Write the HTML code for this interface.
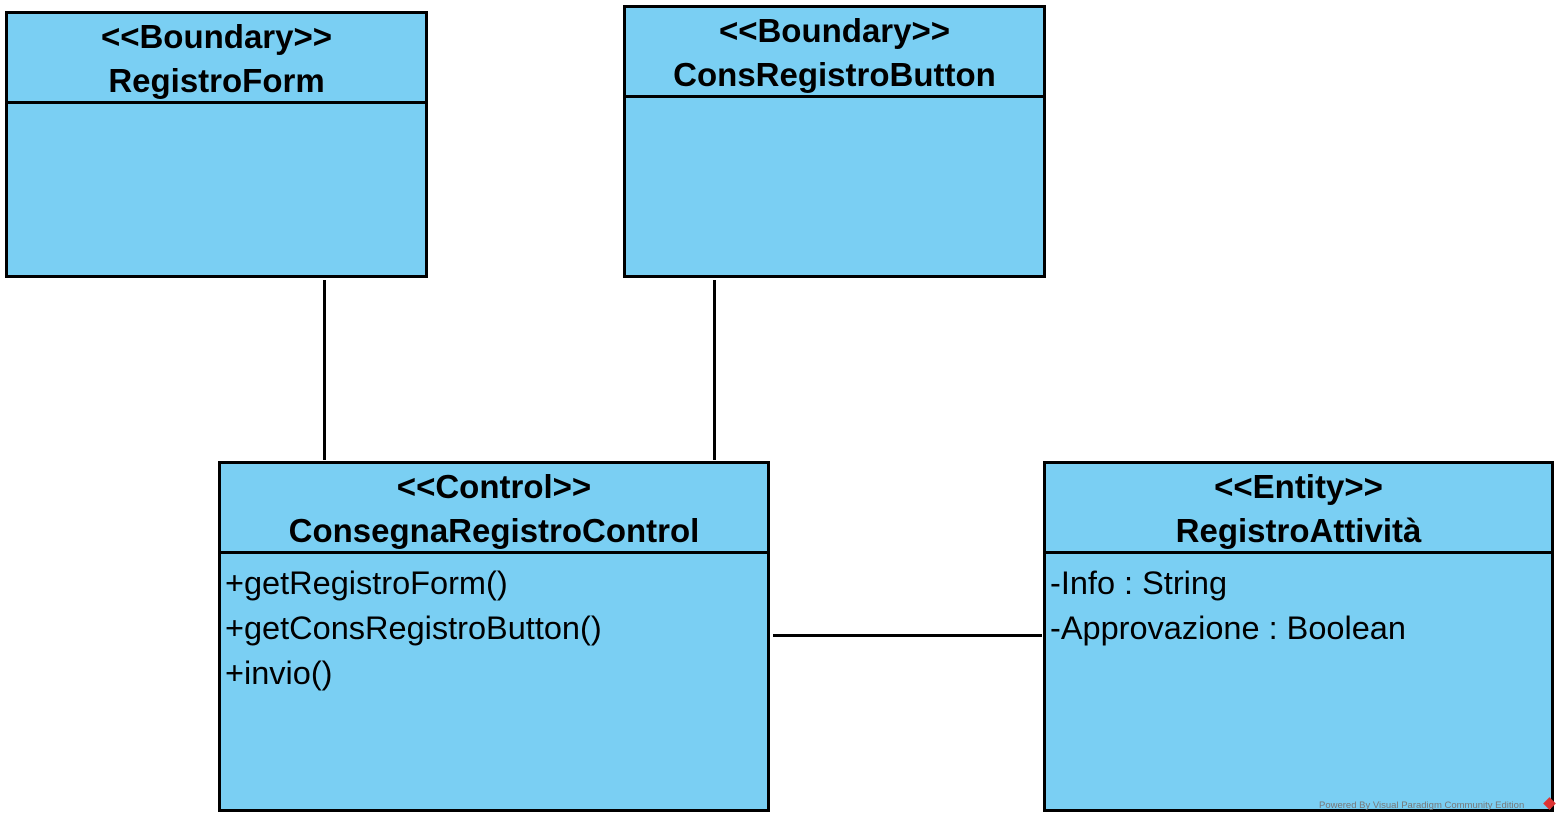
<!DOCTYPE html>
<html><head><style>
body{margin:0;width:1563px;height:822px;background:#fff;position:relative;overflow:hidden;font-family:"Liberation Sans",Arial,sans-serif}
.b{position:absolute;background:#7acff3;border:3px solid #000;box-sizing:border-box}
.h{position:absolute;left:0;right:0;top:0;height:87px;border-bottom:3px solid #000;text-align:center;font-weight:bold;font-size:33px;white-space:nowrap}
.s{line-height:46px;height:46px}
.n{line-height:42px;height:42px}
.a{position:absolute;left:4px;top:97px;font-size:32.5px;line-height:45px;white-space:nowrap}
.l{position:absolute;background:#000}
</style></head><body>
<div class="b" style="left:5px;top:11px;width:423px;height:267px"><div class="h"><div class="s">&lt;&lt;Boundary&gt;&gt;</div><div class="n">RegistroForm</div></div></div>
<div class="b" style="left:623px;top:5px;width:423px;height:273px"><div class="h"><div class="s">&lt;&lt;Boundary&gt;&gt;</div><div class="n">ConsRegistroButton</div></div></div>
<div class="b" style="left:218px;top:461px;width:552px;height:351px"><div class="h"><div class="s">&lt;&lt;Control&gt;&gt;</div><div class="n">ConsegnaRegistroControl</div></div>
<div class="a">+getRegistroForm()<br>+getConsRegistroButton()<br>+invio()</div></div>
<div class="b" style="left:1043px;top:461px;width:511px;height:351px"><div class="h"><div class="s">&lt;&lt;Entity&gt;&gt;</div><div class="n">RegistroAttività</div></div>
<div class="a">-Info : String<br>-Approvazione : Boolean</div></div>
<div class="l" style="left:323px;top:280px;width:3px;height:180px"></div>
<div class="l" style="left:713px;top:280px;width:3px;height:180px"></div>
<div class="l" style="left:773px;top:634px;width:269px;height:3px"></div>
<div style="position:absolute;left:1319px;top:800px;font-size:9.5px;color:#777;white-space:nowrap">Powered By Visual Paradigm Community Edition</div>
<div style="position:absolute;left:1545px;top:799px;width:9px;height:9px;background:#d33;transform:rotate(45deg)"></div>
</body></html>
